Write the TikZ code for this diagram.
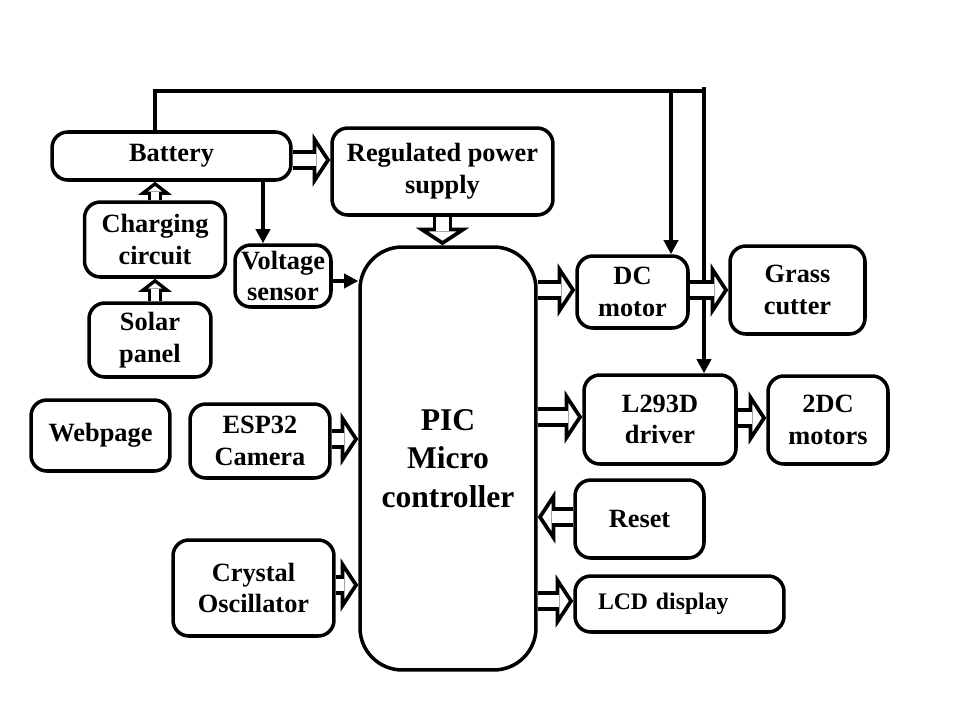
\documentclass[tikz,border=0pt]{standalone}
\usepackage{fontspec}
\setmainfont{Liberation Serif}
\usetikzlibrary{arrows.meta, positioning, calc}

% hollow block arrow: open head first, double shaft on top
\tikzset{
  big shaft/.style={line width=2.1pt, double=white, double distance=7pt, shorten >=8pt},
  big head/.style={white, line width=0.1pt,
    -{Triangle[color=black, fill=white, line width=2.1pt, length=10pt, width=30pt]}},
  small shaft/.style={line width=2.1pt, double=white, double distance=4pt, shorten >=6pt},
  small head/.style={white, line width=0.1pt,
    -{Triangle[color=black, fill=white, line width=2.1pt, length=7.5pt, width=19pt]}},
}
\newcommand\harrow[3][big]{%
  \draw[#1 head] #2 -- #3;
  \draw[#1 shaft] #2 -- #3;}

\begin{document}
\begin{tikzpicture}[x=0.02cm, y=-0.02cm,
    blk/.style={draw, line width=2pt, rounded corners=9pt, fill=white,
                align=center, font=\fontsize{15}{18}\selectfont\bfseries, inner sep=2pt},
    wire/.style={line width=2pt},
    tip/.style={-{Triangle[length=8pt, width=8pt]}}
  ]
    \useasboundingbox (0,0) rectangle (960,720);

    % power side
    \node[blk, minimum width=4.78cm, minimum height=0.96cm] (batt) at (171.5,156) {Battery};
    \node[blk, minimum width=4.42cm, minimum height=1.74cm] (reg) at (442.5,171.5) {Regulated power\\supply};
    \node[blk, minimum width=2.82cm, minimum height=1.5cm] (chg) at (155,239.5) {Charging\\circuit};
    \node[blk, minimum width=2.44cm, minimum height=1.48cm] (sol) at (150,340) {Solar\\panel};
    \node[blk, minimum width=1.92cm, minimum height=1.24cm] (vs) at (283,276) {Voltage\\sensor};

    % controller
    \node[blk, rounded corners=24pt, minimum width=3.52cm, minimum height=8.46cm,
          font=\fontsize{18}{22}\selectfont\bfseries] (pic) at (448,458.5) {PIC\\Micro\\controller};

    % inputs
    \node[blk, minimum width=2.78cm, minimum height=1.42cm] (web) at (100.5,435.5) {Webpage};
    \node[blk, minimum width=2.8cm, minimum height=1.48cm] (cam) at (260,441) {ESP32\\Camera};
    \node[blk, minimum width=3.22cm, minimum height=1.92cm] (xtal) at (253.5,588) {Crystal\\Oscillator};

    % outputs
    \node[blk, minimum width=2.22cm, minimum height=1.44cm] (dc) at (632.5,292) {DC\\motor};
    \node[blk, minimum width=2.7cm, minimum height=1.76cm] (cut) at (797.5,290) {Grass\\cutter};
    \node[blk, minimum width=3.04cm, minimum height=1.78cm] (drv) at (660,419.5) {L293D\\driver};
    \node[blk, minimum width=2.4cm, minimum height=1.76cm] (mot) at (828,420) {2DC\\motors};
    \node[blk, minimum width=2.58cm, minimum height=1.56cm] (rst) at (639.5,519) {Reset};
    \node[blk, minimum width=4.18cm, minimum height=1.12cm, text width=3.26cm, align=left,
          font=\fontsize{13.5}{16}\selectfont\bfseries] (lcd) at (679.5,604) {LCD display\vphantom{Ag}\\[-6pt]};

    % bus lines
    \coordinate (rbus) at (704,91);
    \coordinate (mbus) at (671,91);
    \coordinate (vtap) at (263,0);
    \draw[wire] (batt.north -| chg.north) |- (rbus);
    \draw[wire, tip] ($(rbus)+(0,-4)$) -- (rbus |- drv.north);
    \draw[wire, tip] (mbus) -- (mbus |- dc.north);
    \draw[wire, tip] (batt.south -| vtap) -- (vs.north -| vtap);
    \draw[wire, tip] (vs.east |- 0,281) -- (pic.west |- 0,281);

    % hollow arrows
    \harrow{(batt.east |- 0,160)}{(reg.west |- 0,160)}
    \harrow[small]{(chg.north)}{(batt.south -| chg.north)}
    \harrow[small]{(sol.north -| chg.north)}{(chg.south)}
    \harrow{(reg.south)}{(pic.north -| reg.south)}
    \harrow{(cam.east |- 0,439)}{(pic.west |- 0,439)}
    \harrow{(xtal.east |- 0,585)}{(pic.west |- 0,585)}
    \harrow{(pic.east |- 0,290)}{(dc.west |- 0,290)}
    \harrow{(dc.east |- 0,290)}{(cut.west |- 0,290)}
    \harrow{(pic.east |- 0,417)}{(drv.west |- 0,417)}
    \harrow{(drv.east |- 0,418)}{(mot.west |- 0,418)}
    \harrow{(rst.west |- 0,517)}{(pic.east |- 0,517)}
    \harrow{(pic.east |- 0,601)}{(lcd.west |- 0,601)}
\end{tikzpicture}
\end{document}
